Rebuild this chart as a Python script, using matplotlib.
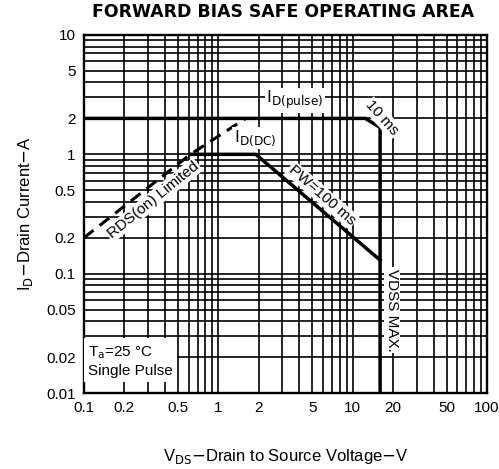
import matplotlib
matplotlib.use("Agg")
import matplotlib.pyplot as plt
from matplotlib.ticker import NullFormatter, LogLocator
import numpy as np

plt.rcParams['font.family'] = ['Liberation Sans', 'DejaVu Sans']

# ---- data ----
x_ticks = [0.1, 0.2, 0.5, 1, 2, 5, 10, 20, 50, 100]
x_ticklabels = ["0.1", "0.2", "0.5", "1", "2", "5", "10", "20", "50", "100"]
y_ticks = [0.01, 0.02, 0.05, 0.1, 0.2, 0.5, 1, 2, 5, 10]
y_ticklabels = ["0.01", "0.02", "0.05", "0.1", "0.2", "0.5", "1", "2", "5", "10"]

rds_v = [0.1, 0.62, 1.6]
rds_i = [0.2, 1.0, 2.0]

pulse_v = [0.1, 12.4, 16, 16]
pulse_i = [2.0, 2.0, 1.68, 0.01]

dc_v = [0.62, 1.9, 16]
dc_i = [1.0, 1.0, 0.13]

fig = plt.figure(figsize=(4.99, 4.69), dpi=100)
ax = fig.add_axes([0.1683, 0.162, 0.8077, 0.7634])
ax.set_xscale('log')
ax.set_yscale('log')
ax.set_xlim(0.1, 100)
ax.set_ylim(0.01, 10)

# grid
ax.xaxis.set_minor_locator(LogLocator(base=10, subs=np.arange(2, 10)))
ax.yaxis.set_minor_locator(LogLocator(base=10, subs=np.arange(2, 10)))
ax.xaxis.set_minor_formatter(NullFormatter())
ax.yaxis.set_minor_formatter(NullFormatter())
ax.grid(True, which='both', color='black', lw=1.2)
ax.set_axisbelow(True)

ax.set_xticks(x_ticks)
ax.set_xticklabels(x_ticklabels)
ax.set_yticks(y_ticks)
ax.set_yticklabels(y_ticklabels)
ax.tick_params(which='both', length=0, labelsize=11, pad=6)
for s in ax.spines.values():
    s.set_linewidth(1.7)
    s.set_color('black')

# curves
ax.plot(rds_v, rds_i, color='black', lw=2.2, ls=(0, (4, 2.5)), zorder=4)
ax.plot(pulse_v, pulse_i, color='black', lw=2.5, zorder=4, solid_joinstyle='miter')
ax.plot(dc_v, dc_i, color='black', lw=2.5, zorder=4, solid_joinstyle='miter')

wb = dict(facecolor='white', edgecolor='none', pad=1.0)
ax.text(3.7, 2.85, r"I$_{\mathrm{D(pulse)}}$", fontsize=12.5, ha='center', va='center', bbox=wb, zorder=5)
ax.text(1.87, 1.37, r"I$_{\mathrm{D(DC)}}$", fontsize=12.5, ha='center', va='center', bbox=wb, zorder=5)
ax.text(16.6, 2.01, "10 ms", fontsize=11, ha='center', va='center', rotation=-48, bbox=wb, zorder=5)
ax.text(5.9, 0.456, "PW=100 ms", fontsize=11, ha='center', va='center', rotation=-41, bbox=wb, zorder=5)
ax.text(0.327, 0.414, "RDS(on) Limited", fontsize=11, ha='center', va='center', rotation=39, bbox=wb, zorder=5)
ax.text(19.6, 0.0495, "VDSS MAX.", fontsize=11, ha='center', va='center', rotation=-90, bbox=wb, zorder=5)
ax.text(0.108, 0.0185, "T$_{\\mathrm{a}}$=25 °C\nSingle Pulse", fontsize=11, ha='left', va='center',
        linespacing=1.3, bbox=dict(facecolor='white', edgecolor='none', pad=3), zorder=5)

ax.set_xlabel(r"V$_{\mathrm{DS}}$$-$Drain to Source Voltage$-$V", fontsize=12, labelpad=23)
ax.set_ylabel(r"I$_{\mathrm{D}}$$-$Drain Current$-$A", fontsize=12, labelpad=8)

fig.text(0.567, 0.974, "FORWARD BIAS SAFE OPERATING AREA", fontsize=12.4, fontweight='bold',
         family='DejaVu Sans', ha='center', va='center')

fig.savefig("out.png", dpi=100)
